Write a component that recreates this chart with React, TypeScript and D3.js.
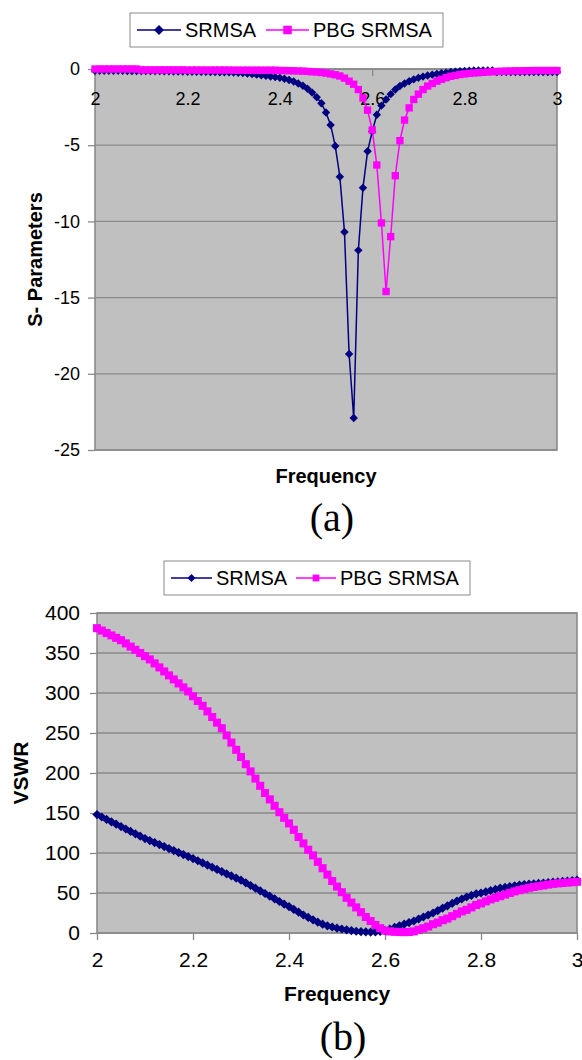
import React, { useEffect, useRef } from 'react';
import * as d3 from 'd3';

// frequency sweep (GHz)
const frequency = [
  2.0, 2.01, 2.02, 2.03, 2.04, 2.05, 2.06, 2.07, 2.08, 2.09,
  2.1, 2.11, 2.12, 2.13, 2.14, 2.15, 2.16, 2.17, 2.18, 2.19,
  2.2, 2.21, 2.22, 2.23, 2.24, 2.25, 2.26, 2.27, 2.28, 2.29,
  2.3, 2.31, 2.32, 2.33, 2.34, 2.35, 2.36, 2.37, 2.38, 2.39,
  2.4, 2.41, 2.42, 2.43, 2.44, 2.45, 2.46, 2.47, 2.48, 2.49,
  2.5, 2.51, 2.52, 2.53, 2.54, 2.55, 2.56, 2.57, 2.58, 2.59,
  2.6, 2.61, 2.62, 2.63, 2.64, 2.65, 2.66, 2.67, 2.68, 2.69,
  2.7, 2.71, 2.72, 2.73, 2.74, 2.75, 2.76, 2.77, 2.78, 2.79,
  2.8, 2.81, 2.82, 2.83, 2.84, 2.85, 2.86, 2.87, 2.88, 2.89,
  2.9, 2.91, 2.92, 2.93, 2.94, 2.95, 2.96, 2.97, 2.98, 2.99,
  3.0,
];

const srmsaS11 = [
  -0.12, -0.12, -0.12, -0.12, -0.12, -0.12, -0.12, -0.13, -0.13, -0.13,
  -0.13, -0.13, -0.13, -0.14, -0.14, -0.15, -0.15, -0.16, -0.16, -0.17,
  -0.17, -0.18, -0.18, -0.19, -0.19, -0.2, -0.2, -0.21, -0.21, -0.22,
  -0.23, -0.25, -0.27, -0.3, -0.33, -0.37, -0.41, -0.45, -0.49, -0.53,
  -0.58, -0.64, -0.72, -0.82, -0.95, -1.1, -1.3, -1.55, -1.85, -2.25,
  -2.85, -3.67, -5.05, -7.07, -10.7, -18.7, -22.9, -11.9, -7.8, -5.4,
  -4.1, -3.0, -2.4, -2.0, -1.65, -1.35, -1.12, -0.95, -0.8, -0.68,
  -0.58, -0.5, -0.43, -0.37, -0.32, -0.28, -0.24, -0.2, -0.17, -0.15,
  -0.13, -0.11, -0.1, -0.1, -0.09, -0.09, -0.09, -0.2, -0.2, -0.2,
  -0.2, -0.2, -0.2, -0.2, -0.2, -0.2, -0.2, -0.2, -0.2, -0.2,
  -0.2,
];

const pbgS11 = [
  0, 0, 0, 0, 0, 0, 0, 0, 0, 0,
  -0.06, -0.06, -0.06, -0.06, -0.06, -0.06, -0.06, -0.06, -0.06, -0.06,
  -0.07, -0.07, -0.07, -0.07, -0.07, -0.07, -0.07, -0.07, -0.07, -0.07,
  -0.08, -0.08, -0.08, -0.08, -0.08, -0.08, -0.08, -0.08, -0.08, -0.08,
  -0.1, -0.1, -0.11, -0.12, -0.13, -0.14, -0.16, -0.18, -0.2, -0.23,
  -0.27, -0.32, -0.38, -0.46, -0.6, -0.8, -1.0, -1.35, -1.9, -2.7,
  -4.0, -6.3, -10.1, -14.6, -11.0, -7.0, -4.7, -3.35, -2.55, -2.0,
  -1.65, -1.35, -1.12, -0.95, -0.8, -0.68, -0.57, -0.48, -0.42, -0.36,
  -0.32, -0.29, -0.26, -0.24, -0.22, -0.2, -0.18, -0.16, -0.15, -0.14,
  -0.13, -0.12, -0.12, -0.11, -0.11, -0.1, -0.1, -0.1, -0.1, -0.1,
  -0.1,
];

const srmsaVswr = [
  148, 145, 142, 139, 136, 133, 130, 127, 124, 121,
  118, 115.5, 113, 110.5, 108, 105.5, 103, 100.5, 98, 95.5,
  93, 90.3, 87.6, 84.9, 82.2, 79.5, 76.8, 74, 71.3, 68.6,
  66, 62.7, 59.4, 56, 52.7, 49.4, 46, 42.7, 39.4, 36,
  33, 29.5, 26, 22.5, 19.5, 16.5, 13.5, 11, 9, 7.5,
  6, 5, 4, 3, 2.2, 1.6, 1.3, 1.2, 1.4, 2,
  3, 5, 7, 9, 11, 13, 15, 17.5, 20, 22.5,
  25, 28, 31, 34, 37, 40, 42.5, 45, 47, 49,
  50, 51.5, 53, 54.5, 56, 57, 58, 59, 60, 60.5,
  61, 61.5, 62, 62.5, 63, 63.5, 64, 64.5, 65, 65.5,
  66,
];

const pbgVswr = [
  381, 378, 375, 372, 369, 366, 362, 358, 354, 350,
  346, 342, 337, 332, 327, 322, 317, 312, 307, 302,
  296, 290, 284, 277, 270, 263, 256, 247, 238, 229,
  220, 211, 202, 193, 184, 175, 167, 159, 151, 144,
  137, 129, 120, 112, 104, 97, 89, 81, 73, 65,
  58, 51, 44, 38, 32, 26, 20, 15, 10, 6,
  3, 2, 1.5, 1.2, 1.1, 1.2, 2, 4, 6, 8,
  11, 13, 16, 18, 21, 24, 27, 29, 32, 35,
  37, 39.5, 42, 44, 46, 48, 50, 52, 53.5, 55,
  56.5, 57.5, 58.5, 59.5, 60.5, 61.5, 62, 62.5, 63, 63.5,
  64,
];

const seriesNames = ['SRMSA', 'PBG SRMSA'];
const freqTicks = [2, 2.2, 2.4, 2.6, 2.8, 3];
const s11Ticks = [0, -5, -10, -15, -20, -25];
const vswrTicks = [0, 50, 100, 150, 200, 250, 300, 350, 400];

const NAVY = '#000080';
const MAGENTA = '#ff00ff';
const SANS = "'Liberation Sans', Arial, sans-serif";
const SERIF = "'Liberation Serif', 'Times New Roman', serif";

function App() {
  const ref = useRef(null);

  useEffect(() => {
    const svg = d3.select(ref.current);
    svg.selectAll('*').remove();

    const createChart = (cfg) => {
      const x = d3.scaleLinear().domain([2, 3]).range([cfg.left, cfg.right]);
      const y = d3.scaleLinear().domain(cfg.yDomain).range([cfg.bottom, cfg.top]);
      const g = svg.append('g');

      g.append('rect')
        .attr('x', cfg.left)
        .attr('y', cfg.top)
        .attr('width', cfg.right - cfg.left)
        .attr('height', cfg.bottom - cfg.top)
        .attr('fill', '#c0c0c0');

      g.selectAll('.grid')
        .data(cfg.yTicks)
        .enter()
        .append('line')
        .attr('x1', cfg.left)
        .attr('x2', cfg.right)
        .attr('y1', (d) => y(d))
        .attr('y2', (d) => y(d))
        .attr('stroke', '#8a8a8a')
        .attr('stroke-width', 1.3);

      g.append('rect')
        .attr('x', cfg.left)
        .attr('y', cfg.top)
        .attr('width', cfg.right - cfg.left)
        .attr('height', cfg.bottom - cfg.top)
        .attr('fill', 'none')
        .attr('stroke', '#8a8a8a')
        .attr('stroke-width', 1.6);

      // y axis
      const yAxis = g
        .append('g')
        .attr('transform', `translate(${cfg.left},0)`)
        .call(
          d3
            .axisLeft(y)
            .tickValues(cfg.yTicks)
            .tickSize(7)
            .tickPadding(cfg.yPad)
            .tickFormat((d) => String(d))
        );
      yAxis.select('.domain').remove();
      yAxis.selectAll('line').attr('stroke', '#8a8a8a').attr('stroke-width', 1.3);
      yAxis
        .selectAll('text')
        .attr('fill', '#000')
        .style('font-family', SANS)
        .style('font-size', `${cfg.tickFont}px`);

      // x axis
      const xAxis = g
        .append('g')
        .attr('transform', `translate(0,${y(cfg.xAxisAt)})`)
        .call(
          d3
            .axisBottom(x)
            .tickValues(freqTicks)
            .tickSize(7)
            .tickPadding(cfg.xPad)
            .tickFormat((d) => String(d))
        );
      xAxis.select('.domain').remove();
      xAxis.selectAll('line').attr('stroke', '#8a8a8a').attr('stroke-width', 1.3);
      xAxis
        .selectAll('text')
        .attr('fill', '#000')
        .style('font-family', SANS)
        .style('font-size', `${cfg.tickFont}px`);

      // series
      cfg.series.forEach((s) => {
        const pts = frequency.map((f, i) => [x(f), y(s.values[i])]);
        g.append('path')
          .attr('d', d3.line()(pts))
          .attr('fill', 'none')
          .attr('stroke', s.color)
          .attr('stroke-width', 1.5);
        const r = cfg.marker;
        if (s.shape === 'diamond') {
          g.selectAll(null)
            .data(pts)
            .enter()
            .append('path')
            .attr('d', (p) => `M${p[0]},${p[1] - r}L${p[0] + r},${p[1]}L${p[0]},${p[1] + r}L${p[0] - r},${p[1]}Z`)
            .attr('fill', s.color);
        } else {
          const side = r * 1.75;
          g.selectAll(null)
            .data(pts)
            .enter()
            .append('rect')
            .attr('x', (p) => p[0] - side / 2)
            .attr('y', (p) => p[1] - side / 2)
            .attr('width', side)
            .attr('height', side)
            .attr('fill', s.color);
        }
      });

      // titles
      g.append('text')
        .attr('x', (cfg.left + cfg.right) / 2)
        .attr('y', cfg.xTitleY)
        .attr('text-anchor', 'middle')
        .style('font-family', SANS)
        .style('font-weight', 'bold')
        .style('font-size', `${cfg.titleFont}px`)
        .text('Frequency');

      g.append('text')
        .attr('transform', `translate(${cfg.yTitleX},${(cfg.top + cfg.bottom) / 2}) rotate(-90)`)
        .attr('text-anchor', 'middle')
        .style('font-family', SANS)
        .style('font-weight', 'bold')
        .style('font-size', `${cfg.titleFont}px`)
        .text(cfg.yTitle);

      g.append('text')
        .attr('x', (cfg.left + cfg.right) / 2 + 6)
        .attr('y', cfg.captionY)
        .attr('text-anchor', 'middle')
        .style('font-family', SERIF)
        .style('font-size', '40px')
        .text(cfg.caption);

      // legend
      const lg = cfg.legend;
      const leg = g.append('g').attr('transform', `translate(${lg.x},${lg.y})`);
      leg.append('rect')
        .attr('width', lg.w)
        .attr('height', lg.h)
        .attr('fill', '#fff')
        .attr('stroke', '#8a8a8a')
        .attr('stroke-width', 1);
      const cy = lg.h / 2;
      lg.items.forEach((it, i) => {
        const s = cfg.series[i];
        leg.append('line')
          .attr('x1', it.x0)
          .attr('x2', it.x1)
          .attr('y1', cy)
          .attr('y2', cy)
          .attr('stroke', s.color)
          .attr('stroke-width', 1.5);
        const mx = (it.x0 + it.x1) / 2;
        const r = lg.marker;
        if (s.shape === 'diamond') {
          leg.append('path')
            .attr('d', `M${mx},${cy - r}L${mx + r},${cy}L${mx},${cy + r}L${mx - r},${cy}Z`)
            .attr('fill', s.color);
        } else {
          leg.append('rect')
            .attr('x', mx - r * 0.85)
            .attr('y', cy - r * 0.85)
            .attr('width', r * 1.7)
            .attr('height', r * 1.7)
            .attr('fill', s.color);
        }
        leg.append('text')
          .attr('x', it.x1 + 4)
          .attr('y', cy + 7)
          .style('font-family', SANS)
          .style('font-size', '20px')
          .text(seriesNames[i]);
      });
    };

    createChart({
      left: 95,
      right: 557,
      top: 69,
      bottom: 450,
      yDomain: [-25, 0],
      yTicks: s11Ticks,
      xAxisAt: 0,
      tickFont: 18,
      xPad: 16,
      yPad: 8,
      marker: 4.2,
      titleFont: 20,
      xTitleY: 483,
      yTitleX: 42,
      yTitle: 'S- Parameters',
      captionY: 531,
      caption: '(a)',
      series: [
        { values: srmsaS11, color: NAVY, shape: 'diamond' },
        { values: pbgS11, color: MAGENTA, shape: 'square' },
      ],
      legend: {
        x: 130,
        y: 13,
        w: 313,
        h: 34,
        marker: 5,
        items: [
          { x0: 7, x1: 51 },
          { x0: 136, x1: 179 },
        ],
      },
    });

    createChart({
      left: 97,
      right: 577,
      top: 613,
      bottom: 933,
      yDomain: [0, 400],
      yTicks: vswrTicks,
      xAxisAt: 0,
      tickFont: 21,
      xPad: 12,
      yPad: 10,
      marker: 4.6,
      titleFont: 21,
      xTitleY: 1001,
      yTitleX: 28,
      yTitle: 'VSWR',
      captionY: 1050,
      caption: '(b)',
      series: [
        { values: srmsaVswr, color: NAVY, shape: 'diamond' },
        { values: pbgVswr, color: MAGENTA, shape: 'square' },
      ],
      legend: {
        x: 164,
        y: 561,
        w: 306,
        h: 34,
        marker: 4,
        items: [
          { x0: 7, x1: 48 },
          { x0: 132, x1: 172 },
        ],
      },
    });
  }, []);

  return (
    <svg
      ref={ref}
      width={582}
      height={1060}
      style={{ position: 'absolute', left: 0, top: 0, background: '#fff' }}
    />
  );
}

export default App;
